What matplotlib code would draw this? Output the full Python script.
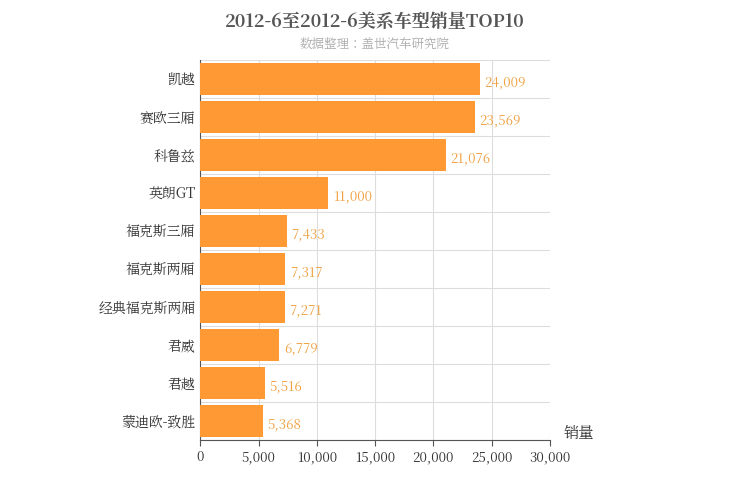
import matplotlib.pyplot as plt
from matplotlib import font_manager

# pick whatever CJK family is registered
cjk = [f.name for f in font_manager.fontManager.ttflist if "CJK" in f.name]
if not cjk:
    for path in font_manager.findSystemFonts():
        if "CJK" in path or "cjk" in path.lower():
            font_manager.fontManager.addfont(path)
    cjk = [f.name for f in font_manager.fontManager.ttflist if "CJK" in f.name]
preferred = [n for n in cjk if n.endswith("SC")] or cjk
plt.rcParams["font.family"] = (preferred[:1] or []) + ["DejaVu Sans"]

models = ["凯越", "赛欧三厢", "科鲁兹", "英朗GT", "福克斯三厢",
          "福克斯两厢", "经典福克斯两厢", "君威", "君越", "蒙迪欧-致胜"]
sales = [24009, 23569, 21076, 11000, 7433, 7317, 7271, 6779, 5516, 5368]
xticks = [0, 5000, 10000, 15000, 20000, 25000, 30000]

fig = plt.figure(figsize=(7.5, 5), dpi=100)
ax = fig.add_axes([0.267, 0.12, 0.466, 0.76])

ypos = list(range(len(models)))[::-1]
ax.barh(ypos, sales, height=0.82, color="#FF9933", zorder=3)
for y, v in zip(ypos, sales):
    ax.text(v + 400, y - 0.08, f"{v:,}", va="center", ha="left",
            color="#F0A040", fontsize=9.5, zorder=4)

ax.set_yticks(ypos)
ax.set_yticklabels(models, fontsize=10, color="#333333")
ax.set_xticks(xticks)
ax.set_xticklabels([f"{t:,}" for t in xticks], fontsize=9.5, color="#333333")
ax.set_xlim(0, 30000)
ax.set_ylim(-0.5, len(models) - 0.5)

ax.set_yticks([y + 0.5 for y in range(-1, len(models))], minor=True)
ax.grid(True, axis="x", color="#dddddd", linewidth=0.8, zorder=0)
ax.grid(True, axis="y", which="minor", color="#dddddd", linewidth=0.8, zorder=0)
ax.tick_params(axis="y", which="both", length=0)
ax.tick_params(axis="x", length=4, color="#555555")
for s in ["top", "right"]:
    ax.spines[s].set_visible(False)
ax.spines["left"].set_color("#555555")
ax.spines["bottom"].set_color("#555555")

ax.text(1.04, -0.005, "销量", transform=ax.transAxes, fontsize=11,
        color="#333333", ha="left", va="bottom")

fig.text(0.5, 0.955, "2012-6至2012-6美系车型销量TOP10", ha="center", va="center",
         fontsize=13, fontweight="bold", color="#555555")
fig.text(0.5, 0.91, "数据整理：盖世汽车研究院", ha="center", va="center",
         fontsize=9, color="#aaaaaa")

fig.savefig("out.png", dpi=100)
